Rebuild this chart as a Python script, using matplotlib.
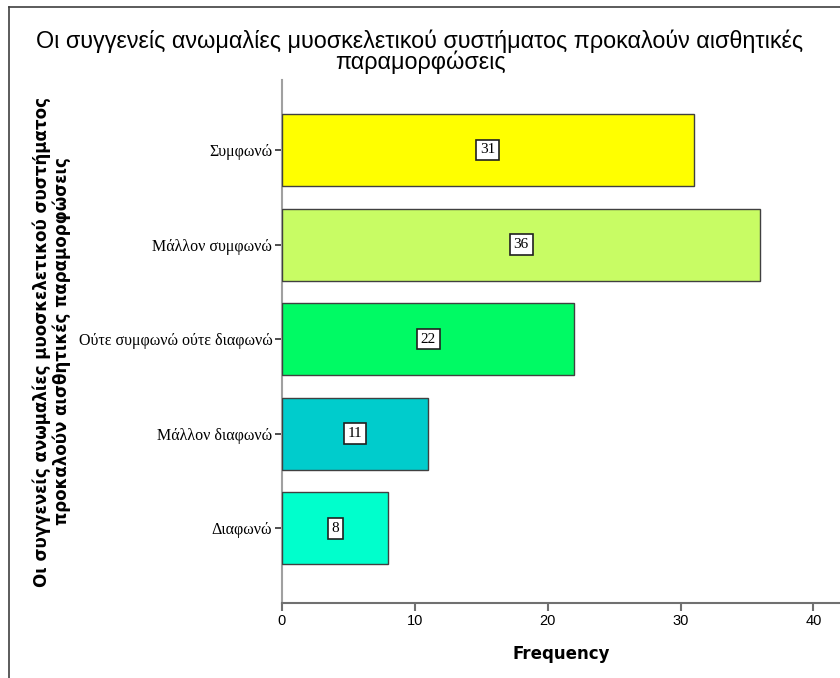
import matplotlib
matplotlib.use("Agg")
import matplotlib.pyplot as plt
from matplotlib.lines import Line2D

TITLE = "Οι συγγενείς ανωμαλίες μυοσκελετικού συστήματος προκαλούν αισθητικές\nπαραμορφώσεις"
YLABEL = "Οι συγγενείς ανωμαλίες μυοσκελετικού συστήματος\nπροκαλούν αισθητικές παραμορφώσεις"
categories = ["Συμφωνώ", "Μάλλον συμφωνώ", "Ούτε συμφωνώ ούτε διαφωνώ", "Μάλλον διαφωνώ", "Διαφωνώ"]
counts = [31, 36, 22, 11, 8]
colors = ["#ffff00", "#c8fc64", "#00fa64", "#00cccc", "#00ffcc"]
xticks = [0, 10, 20, 30, 40]

fig = plt.figure(figsize=(8.4, 6.78), dpi=100)
ax = fig.add_axes([0.3357, 0.1106, 0.6643, 0.7714])

pos = list(range(len(categories)))
ax.barh(pos, counts, height=0.76, color=colors, edgecolor="#404040", linewidth=1.0, zorder=3)
for p, c in zip(pos, counts):
    ax.text(c / 2, p, str(c), ha="center", va="center", fontsize=11, family="Liberation Serif",
            bbox=dict(boxstyle="square,pad=0.25", fc="white", ec="#202020", lw=1.2), zorder=4)

ax.set_ylim(4.79, -0.74)
ax.set_xlim(0, 42)
ax.set_yticks(pos)
ax.set_yticklabels(categories, family="Liberation Serif", fontsize=11.5)
ax.set_xticks(xticks)
ax.set_xticklabels([str(t) for t in xticks], family="Liberation Sans", fontsize=10.5)
ax.tick_params(axis="y", length=5, width=1.2, color="#303030", pad=2)
ax.tick_params(axis="x", length=6, width=1.5, color="#707070", pad=2)
for side in ("top", "right"):
    ax.spines[side].set_visible(False)
ax.spines["left"].set_color("#a0a0a0")
ax.spines["left"].set_linewidth(1.5)
ax.spines["bottom"].set_color("#707070")
ax.spines["bottom"].set_linewidth(1.5)

ax.set_xlabel("Frequency", fontsize=12, fontweight="bold", labelpad=12)
ax.set_ylabel(YLABEL, fontsize=12, fontweight="bold", linespacing=1.1)
ax.yaxis.set_label_coords(-0.378, 0.5)

fig.text(0.5, 0.891, TITLE, ha="center", va="bottom", fontsize=16.8, family="Liberation Sans",
         linespacing=0.85)

# outer frame, only left and top edges fall inside the canvas
fig.add_artist(Line2D([9 / 840, 9 / 840], [0, 1 - 7 / 678], transform=fig.transFigure, color="#404040", lw=1.2))
fig.add_artist(Line2D([9 / 840, 1], [1 - 7 / 678, 1 - 7 / 678], transform=fig.transFigure, color="#404040", lw=1.2))

fig.savefig("out.png", dpi=100)
